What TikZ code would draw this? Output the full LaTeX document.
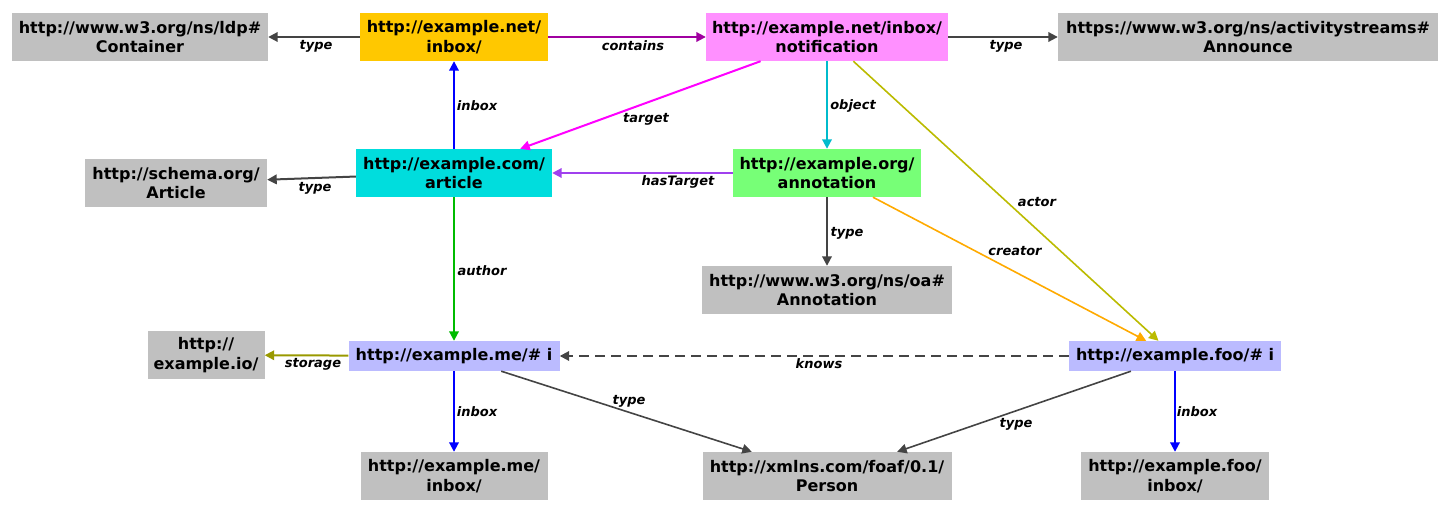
\documentclass[tikz,border=0pt]{standalone}
\usepackage{fontspec}
\setmainfont{DejaVu Sans}
\usetikzlibrary{arrows.meta,calc}
\definecolor{gboxc}{HTML}{C0C0C0}
\definecolor{orangec}{HTML}{FFC800}
\definecolor{pinkc}{HTML}{FF90FF}
\definecolor{cyanc}{HTML}{00DDDD}
\definecolor{greenc}{HTML}{77FF77}
\definecolor{lavc}{HTML}{BBBBFF}
\definecolor{typec}{HTML}{444444}
\definecolor{containsc}{HTML}{A000A0}
\definecolor{inboxc}{HTML}{0000FF}
\definecolor{targetc}{HTML}{FF00FF}
\definecolor{objectc}{HTML}{00BBCC}
\definecolor{actorc}{HTML}{BBBB00}
\definecolor{hastargetc}{HTML}{A040EE}
\definecolor{creatorc}{HTML}{FFAA00}
\definecolor{authorc}{HTML}{00BB00}
\definecolor{storagec}{HTML}{999900}
\begin{document}
\begin{tikzpicture}[x=1pt,y=-1pt,
  nbox/.style={inner sep=0pt, align=center, text=black,
    font=\fontsize{16}{19.7}\selectfont\bfseries, minimum height=48pt},
  gbox/.style={nbox, fill=gboxc},
  edge/.style={line width=2pt, -{Triangle[length=9.5pt,width=9.5pt]}},
  thin edge/.style={line width=1.6pt, -{Triangle[length=9.5pt,width=9.5pt]}},
  lbl/.style={inner sep=0pt, text=black, font=\fontsize{13}{15}\selectfont\bfseries\itshape},
]
\useasboundingbox (0,0) rectangle (1450,513);

% nodes
\node[gbox, minimum width=256pt] (ldp) at (140,37) {http://www.w3.org/ns/ldp\#\\Container};
\node[nbox, fill=orangec, minimum width=188pt] (netinbox) at (454,37) {http://example.net/\\inbox/};
\node[nbox, fill=pinkc, minimum width=242pt] (notif) at (827,37) {http://example.net/inbox/\\notification};
\node[gbox, minimum width=380pt] (announce) at (1248,37) {https://www.w3.org/ns/activitystreams\#\\Announce};
\node[gbox, minimum width=182pt] (schema) at (176,183) {http://schema.org/\\Article};
\node[nbox, fill=cyanc, minimum width=196pt] (article) at (454,173) {http://example.com/\\article};
\node[nbox, fill=greenc, minimum width=188pt] (annotation) at (827,173) {http://example.org/\\annotation};
\node[gbox, minimum width=250pt] (oa) at (827,290) {http://www.w3.org/ns/oa\#\\Annotation};
\node[gbox, minimum width=117pt] (io) at (206,355) {http://\\example.io/};
\node[nbox, fill=lavc, minimum width=211pt, minimum height=30pt] (mei) at (454,356) {http://example.me/\# i};
\node[nbox, fill=lavc, minimum width=212pt, minimum height=30pt] (fooi) at (1175,356) {http://example.foo/\# i};
\node[gbox, minimum width=187pt] (meinbox) at (454,476) {http://example.me/\\inbox/};
\node[gbox, minimum width=249pt] (person) at (827,476) {http://xmlns.com/foaf/0.1/\\Person};
\node[gbox, minimum width=188pt] (fooinbox) at (1175,476) {http://example.foo/\\inbox/};

% edges
\draw[edge, typec] (netinbox) -- (ldp);
\draw[edge, containsc] (netinbox) -- (notif);
\draw[edge, typec] (notif) -- (announce);
\draw[edge, inboxc] (article) -- (netinbox);
\draw[edge, targetc] (notif) -- (article);
\draw[edge, objectc] (notif) -- (annotation);
\draw[thin edge, actorc] (notif) -- (fooi);
\draw[edge, typec] (article) -- (schema);
\draw[edge, hastargetc] (annotation) -- (article);
\draw[edge, typec] (annotation) -- (oa);
\draw[thin edge, creatorc] (annotation) -- (fooi);
\draw[edge, authorc] (article) -- (mei);
\draw[edge, storagec] (mei) -- (io);
\draw[edge, typec, dash pattern=on 10pt off 6pt] (fooi) -- (mei);
\draw[edge, inboxc] (mei) -- (meinbox);
\draw[thin edge, typec] (mei) -- (person);
\draw[thin edge, typec] (fooi) -- (person);
\draw[edge, inboxc] (fooi) -- (fooinbox);

% labels
\node[lbl] (l1) at (316,46) {type};
\node[lbl] (l2) at (633,46) {contains};
\node[lbl] (l3) at (1006,46) {type};
\node[lbl] (l4) at (477,106) {inbox};
\node[lbl] (l5) at (646,119) {target};
\node[lbl] (l6) at (853,106) {object};
\node[lbl] (l7) at (1037,202) {actor};
\node[lbl] (l8) at (315,188) {type};
\node[lbl] (l9) at (678,182) {hasTarget};
\node[lbl] (l10) at (847,233) {type};
\node[lbl] (l11) at (1015,251) {creator};
\node[lbl] (l12) at (482,271) {author};
\node[lbl] (l13) at (313,364) {storage};
\node[lbl] (l14) at (819,364) {knows};
\node[lbl] (l15) at (477,412) {inbox};
\node[lbl] (l16) at (629,401) {type};
\node[lbl] (l17) at (1016,424) {type};
\node[lbl] (l18) at (1197,412) {inbox};
\end{tikzpicture}
\end{document}
